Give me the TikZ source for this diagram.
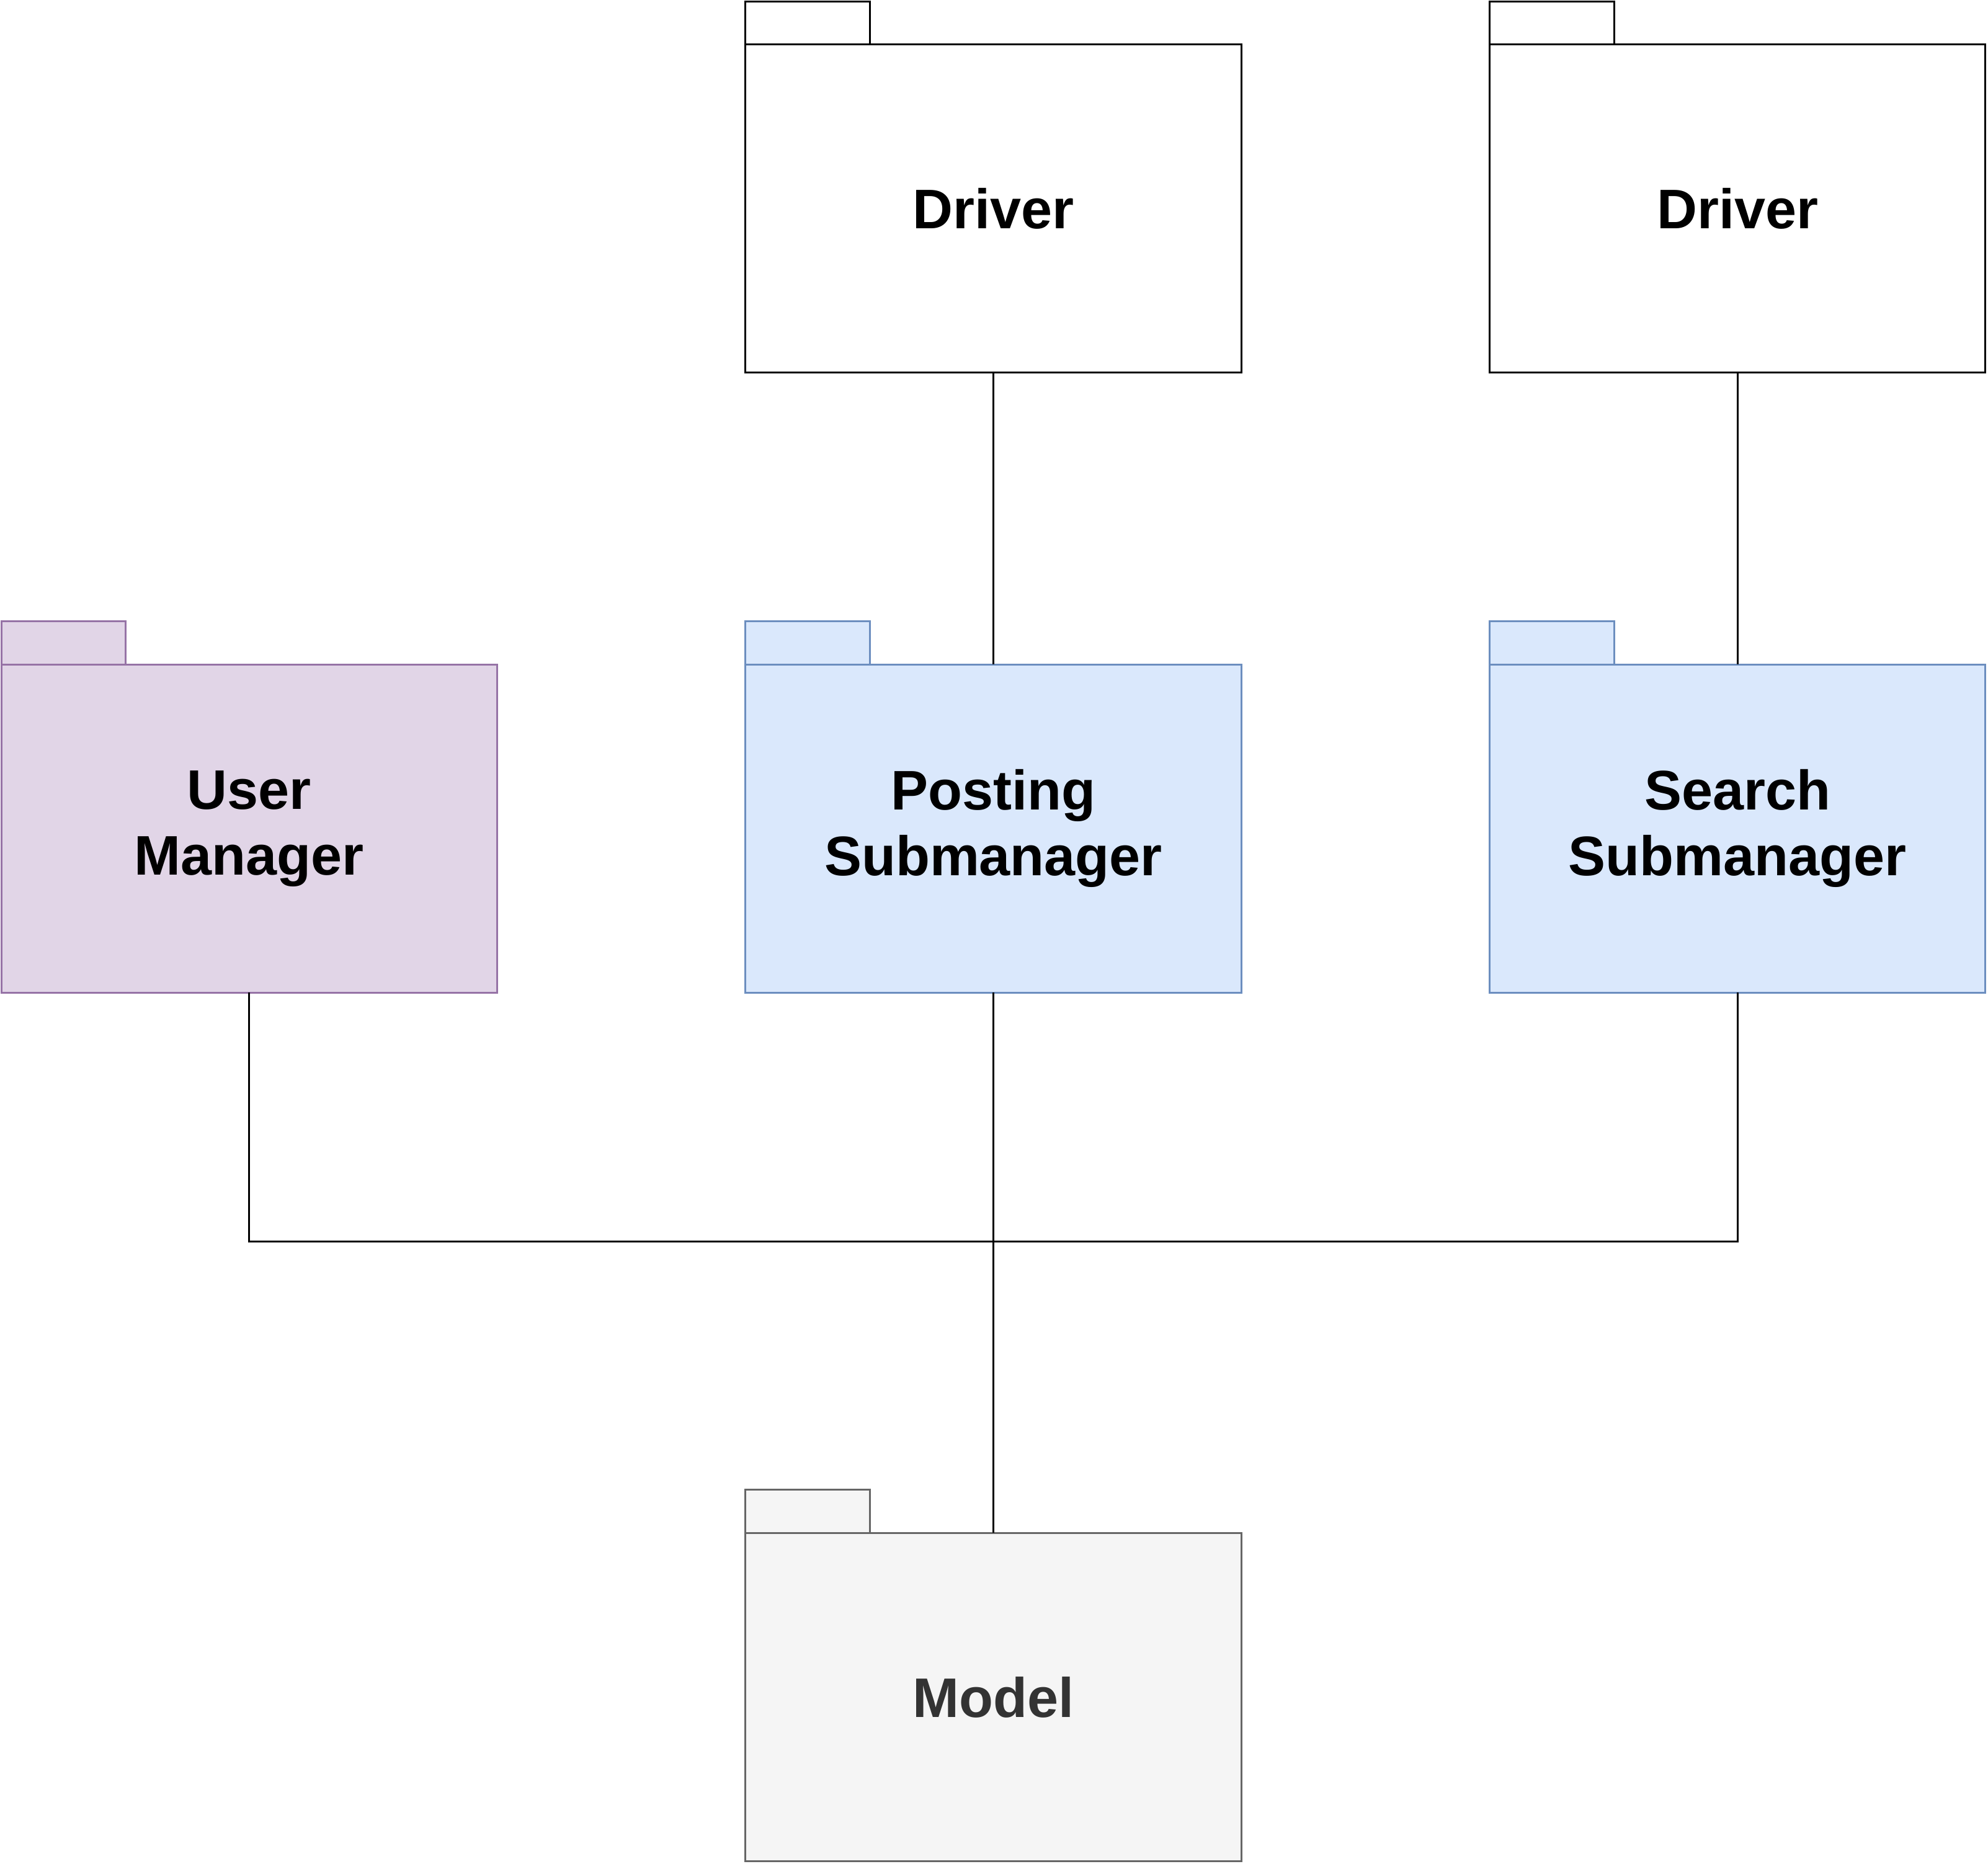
\documentclass[tikz,border=0pt]{standalone}
\usepackage{fontspec}
\setmainfont{Liberation Sans}
\usepackage{tikz}
\usetikzlibrary{positioning}
\definecolor{umfill}{HTML}{E1D5E7}
\definecolor{umdraw}{HTML}{9673A6}
\definecolor{subfill}{HTML}{DAE8FC}
\definecolor{subdraw}{HTML}{6C8EBF}
\definecolor{modfill}{HTML}{F5F5F5}
\definecolor{moddraw}{HTML}{666666}
\definecolor{modtext}{HTML}{333333}

\begin{document}
\begin{tikzpicture}[x=1pt, y=1pt]

    % --- Styles ---
    \tikzset{
        pkgbody/.style={rectangle, minimum width=391pt, minimum height=259pt, inner sep=0pt, outer sep=0pt, line width=1.5pt, align=center, font=\fontsize{44}{52}\selectfont\bfseries},
        pkgplain/.style={pkgbody, draw=black, fill=white},
        pkguser/.style={pkgbody, draw=umdraw, fill=umfill},
        pkgsub/.style={pkgbody, draw=subdraw, fill=subfill},
        pkgmodel/.style={pkgbody, draw=moddraw, fill=modfill, text=modtext},
        link/.style={line width=1.5pt, draw=black}
    }

    \useasboundingbox (0,0) rectangle (1568,-1470);

    % --- Packages ---
    \node (postsub) [pkgsub] at (783.5,-653.5) {Posting\\Submanager};
    \node (usermgr) [pkguser, left=196pt of postsub] {User\\Manager};
    \node (searchsub) [pkgsub, right=196pt of postsub] {Search\\Submanager};
    \node (driverA) [pkgplain, above=230pt of postsub] {Driver};
    \node (driverB) [pkgplain, above=230pt of searchsub] {Driver};
    \node (model) [pkgmodel, below=426pt of postsub] {Model};

    % --- Tabs ---
    \draw [line width=1.5pt, draw=black, fill=white] (driverA.north west) rectangle ++(98,34);
    \draw [line width=1.5pt, draw=black, fill=white] (driverB.north west) rectangle ++(98,34);
    \draw [line width=1.5pt, draw=umdraw, fill=umfill] (usermgr.north west) rectangle ++(98,34);
    \draw [line width=1.5pt, draw=subdraw, fill=subfill] (postsub.north west) rectangle ++(98,34);
    \draw [line width=1.5pt, draw=subdraw, fill=subfill] (searchsub.north west) rectangle ++(98,34);
    \draw [line width=1.5pt, draw=moddraw, fill=modfill] (model.north west) rectangle ++(98,34);

    % --- Connections ---
    \draw [link] (driverA) -- (postsub);
    \draw [link] (driverB) -- (searchsub);
    \draw [link] (postsub) -- (model);
    \draw [link] (usermgr.south) -- ++(0,-196) -| (searchsub.south);

\end{tikzpicture}
\end{document}
